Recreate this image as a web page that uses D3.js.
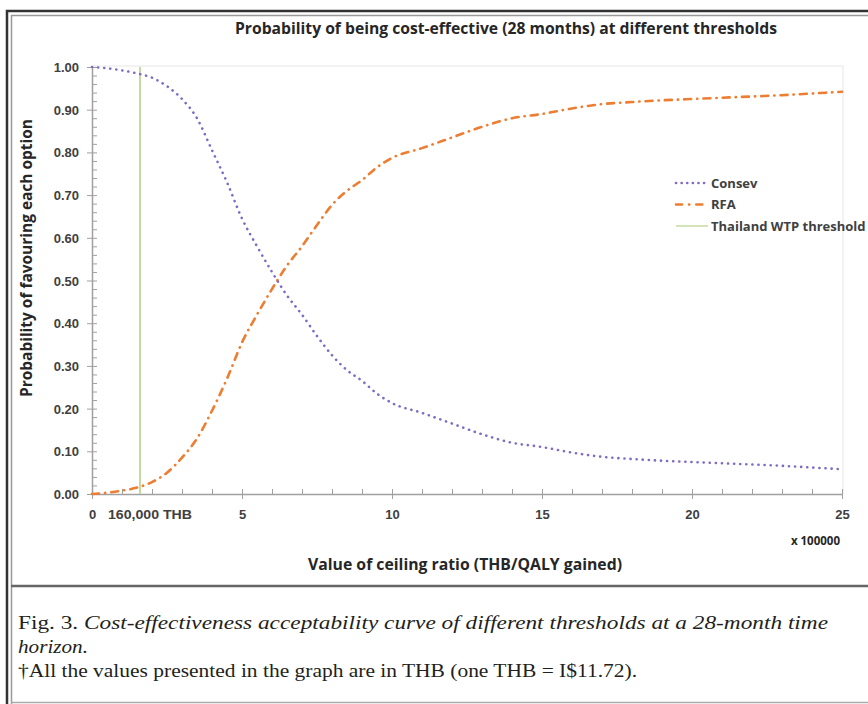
<!DOCTYPE html>
<meta charset="utf-8">
<style>
html, body {
  margin: 0;
  padding: 0;
  background: #fff;
}
svg {
  display: block;
  font-family: "Open Sans", sans-serif;
}
.axis text {
  font-weight: bold;
  fill: #404040;
}
</style>
<svg width="868" height="704"></svg>
<script src="https://cdnjs.cloudflare.com/ajax/libs/d3/7.8.5/d3.min.js"></script>
<script>
// ceiling ratio, in units of 100000 THB
const ceiling = [0, 0.5, 1, 1.5, 2, 2.5, 3, 3.5, 4, 4.5, 5, 5.5, 6, 6.5, 7, 7.5, 8, 8.5, 9, 9.5,
  10, 11, 12, 13, 14, 15, 16, 17, 18, 19, 20, 21, 22, 23, 24, 25];
const consev = [1.00, 0.997, 0.992, 0.985, 0.975, 0.955, 0.925, 0.88, 0.805, 0.73, 0.645, 0.58, 0.52, 0.465, 0.42, 0.37, 0.325, 0.29, 0.265, 0.235,
  0.213, 0.19, 0.165, 0.14, 0.12, 0.11, 0.097, 0.087, 0.082, 0.078, 0.075, 0.072, 0.069, 0.066, 0.062, 0.058];
const rfa = [0.00, 0.003, 0.008, 0.015, 0.028, 0.05, 0.085, 0.13, 0.195, 0.27, 0.355, 0.42, 0.48, 0.535, 0.58, 0.63, 0.677, 0.71, 0.735, 0.765,
  0.787, 0.81, 0.835, 0.86, 0.88, 0.89, 0.903, 0.913, 0.918, 0.922, 0.925, 0.928, 0.931, 0.934, 0.938, 0.942];
const wtp = 1.6;
const yTicks = [0, 0.1, 0.2, 0.3, 0.4, 0.5, 0.6, 0.7, 0.8, 0.9, 1.0];
const xTicks = [0, 5, 10, 15, 20, 25];

const svg = d3.select('svg');

// frame
svg.append('path')
  .attr('d', 'M7,704 V11 H868')
  .attr('fill', 'none').attr('stroke', '#333').attr('stroke-width', 2.5);
svg.append('path')
  .attr('d', 'M11.5,704 V15.5 H868')
  .attr('fill', 'none').attr('stroke', '#999').attr('stroke-width', 1.5);
svg.append('line')
  .attr('x1', 11).attr('x2', 868).attr('y1', 586).attr('y2', 586)
  .attr('stroke', '#666').attr('stroke-width', 2.5);
svg.append('line')
  .attr('x1', 11).attr('x2', 868).attr('y1', 702.5).attr('y2', 702.5)
  .attr('stroke', '#aaa').attr('stroke-width', 1.5);

const x = d3.scaleLinear().domain([0, 25]).range([92, 842]);
const y = d3.scaleLinear().domain([0, 1]).range([494, 67]);

// faint plot border
svg.append('path')
  .attr('d', `M${x(0)},${y(1) - 1} H${x(25) + 1} V${y(0)}`)
  .attr('fill', 'none').attr('stroke', '#e6e6e6').attr('stroke-width', 1);

// title
svg.append('text')
  .attr('x', 506).attr('y', 34)
  .attr('text-anchor', 'middle')
  .attr('font-size', 15.5).attr('font-weight', 'bold').attr('fill', '#262626')
  .attr('textLength', 542).attr('lengthAdjust', 'spacingAndGlyphs')
  .text('Probability of being cost-effective (28 months) at different thresholds');

const axisColor = '#a0a0a0';

// x axis
const gx = svg.append('g').attr('class', 'axis')
  .attr('transform', `translate(0,${y(0)})`);
gx.call(d3.axisBottom(x).tickValues(d3.range(0, 26, 1)).tickSize(0).tickFormat(''));
gx.select('.domain').attr('stroke', axisColor).attr('stroke-width', 1.5);
gx.selectAll('.tick line').attr('y1', -5).attr('y2', 0).attr('stroke', axisColor);
gx.selectAll('.tick').filter(d => xTicks.includes(d)).select('line').attr('y1', -5).attr('y2', 5);
gx.selectAll('.tick').filter(d => xTicks.includes(d)).append('text')
  .attr('y', 25).attr('text-anchor', 'middle')
  .attr('font-size', 13).attr('fill', '#404040')
  .text(d => d);
gx.append('text')
  .attr('x', x(wtp) + 10).attr('y', 25).attr('text-anchor', 'middle')
  .attr('font-size', 12.5).attr('fill', '#404040').attr('font-weight', 600)
  .attr('textLength', 84).attr('lengthAdjust', 'spacingAndGlyphs')
  .text('160,000 THB');

svg.append('text')
  .attr('x', 840).attr('y', 545).attr('text-anchor', 'end')
  .attr('font-size', 11.5).attr('font-weight', 'bold').attr('fill', '#262626')
  .text('x 100000');

svg.append('text')
  .attr('x', 465).attr('y', 570).attr('text-anchor', 'middle')
  .attr('font-size', 15.5).attr('font-weight', 'bold').attr('fill', '#262626')
  .attr('textLength', 314).attr('lengthAdjust', 'spacingAndGlyphs')
  .text('Value of ceiling ratio (THB/QALY gained)');

// y axis
const gy = svg.append('g').attr('class', 'axis')
  .attr('transform', `translate(${x(0)},0)`);
gy.call(d3.axisLeft(y).tickValues(d3.range(0, 1.001, 0.02)).tickSize(0).tickFormat(''));
gy.select('.domain').attr('stroke', axisColor).attr('stroke-width', 1.5);
gy.selectAll('.tick line').attr('x1', 0).attr('x2', 5).attr('stroke', axisColor);
gy.selectAll('.tick')
  .filter(d => yTicks.some(t => Math.abs(t - d) < 1e-6))
  .each(function () {
    d3.select(this).select('line').attr('x1', -5).attr('x2', 5);
  })
  .append('text')
  .attr('x', -13).attr('dy', '0.35em').attr('text-anchor', 'end')
  .attr('font-size', 13).attr('fill', '#404040')
  .text(d => d3.format('.2f')(d));

svg.append('text')
  .attr('transform', 'translate(32,258) rotate(-90)')
  .attr('text-anchor', 'middle')
  .attr('font-size', 15.5).attr('font-weight', 'bold').attr('fill', '#262626')
  .attr('textLength', 278).attr('lengthAdjust', 'spacingAndGlyphs')
  .text('Probability of favouring each option');

// threshold line
svg.append('line')
  .attr('x1', x(wtp)).attr('x2', x(wtp))
  .attr('y1', y(1)).attr('y2', y(0))
  .attr('stroke', '#c4dba0').attr('stroke-width', 2);

const line = d3.line()
  .x((d, i) => x(ceiling[i]))
  .y(d => y(d))
  .curve(d3.curveMonotoneX);

svg.append('path')
  .datum(rfa)
  .attr('d', line)
  .attr('fill', 'none')
  .attr('stroke', '#ed7d31').attr('stroke-width', 2.6)
  .attr('stroke-linecap', 'round')
  .attr('stroke-dasharray', '7,6,0.3,6');

svg.append('path')
  .datum(consev)
  .attr('d', line)
  .attr('fill', 'none')
  .attr('stroke', '#7d6bc6').attr('stroke-width', 2.6)
  .attr('stroke-linecap', 'round')
  .attr('stroke-dasharray', '0.1,6');

// legend
const legend = [
  {name: 'Consev', color: '#7d6bc6', dash: '0.1,5.5', cap: 'round'},
  {name: 'RFA', color: '#ed7d31', dash: '6,7,0.3,7', cap: 'round'},
  {name: 'Thailand WTP threshold', color: '#c4dba0', dash: null, cap: 'butt'}
];
const lg = svg.append('g').attr('transform', 'translate(676,183)');
legend.forEach((d, i) => {
  const row = lg.append('g').attr('transform', `translate(0,${i * 21.5})`);
  row.append('line')
    .attr('x1', 0).attr('x2', 32).attr('y1', 0).attr('y2', 0)
    .attr('stroke', d.color).attr('stroke-width', d.dash ? 2.6 : 1.5)
    .attr('stroke-linecap', d.cap)
    .attr('stroke-dasharray', d.dash);
  row.append('text')
    .attr('x', 35).attr('dy', '0.35em')
    .attr('font-size', 13).attr('font-weight', 'bold').attr('fill', '#404040')
    .text(d.name);
});

// caption
const cap = svg.append('g').attr('font-family', '"Liberation Serif", "DejaVu Serif", serif')
  .attr('font-size', 19).attr('fill', '#231f20')
  .style('white-space', 'pre');
const l1 = cap.append('text').attr('x', 18).attr('y', 629)
  .attr('textLength', 810).attr('lengthAdjust', 'spacingAndGlyphs');
l1.append('tspan').text('Fig. 3. ');
l1.append('tspan').attr('font-style', 'italic')
  .text('Cost-effectiveness acceptability curve of  different thresholds at a 28-month time');
cap.append('text').attr('x', 18).attr('y', 653).attr('font-style', 'italic')
  .attr('textLength', 70).attr('lengthAdjust', 'spacingAndGlyphs')
  .text('horizon.');
cap.append('text').attr('x', 18).attr('y', 677)
  .attr('textLength', 619).attr('lengthAdjust', 'spacingAndGlyphs')
  .text('†All the values presented in the graph are in THB (one THB = I$11.72).');
</script>
